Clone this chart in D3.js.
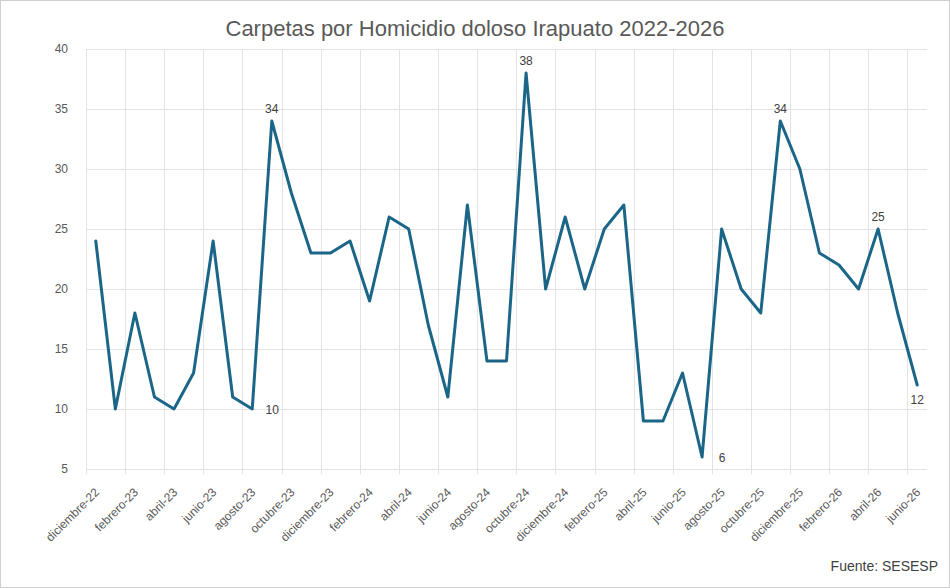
<!doctype html>
<head>
    <meta charset="utf-8">
    <title>Carpetas por Homicidio doloso Irapuato</title>
    <script src="https://cdn.jsdelivr.net/npm/d3@7"></script>
    <style>
        body { margin: 0; background: #fff; }
        svg { display: block; font-family: "Liberation Sans", Arial, sans-serif; }
        .grid line { stroke: #e3e3e3; shape-rendering: crispEdges; }
        .axis text { fill: #595959; font-size: 12px; }
        .axis path, .axis line { display: none; }
    </style>
</head>
<body>
<script>
    "use strict";

    const months = [
        "diciembre-22",
        "enero-23", "febrero-23", "marzo-23", "abril-23", "mayo-23", "junio-23",
        "julio-23", "agosto-23", "septiembre-23", "octubre-23", "noviembre-23", "diciembre-23",
        "enero-24", "febrero-24", "marzo-24", "abril-24", "mayo-24", "junio-24",
        "julio-24", "agosto-24", "septiembre-24", "octubre-24", "noviembre-24", "diciembre-24",
        "enero-25", "febrero-25", "marzo-25", "abril-25", "mayo-25", "junio-25",
        "julio-25", "agosto-25", "septiembre-25", "octubre-25", "noviembre-25", "diciembre-25",
        "enero-26", "febrero-26", "marzo-26", "abril-26", "mayo-26", "junio-26"
    ];
    const carpetas = [
        24,
        10, 18, 11, 10, 13, 24, 11, 10, 34, 28, 23, 23,
        24, 19, 26, 25, 17, 11, 27, 14, 14, 38, 20, 26,
        20, 25, 27, 9, 9, 13, 6, 25, 20, 18, 34, 30,
        23, 22, 20, 25, 18, 12
    ];
    const yTicks = [5, 10, 15, 20, 25, 30, 35, 40];
    // which points get a data label, and where
    const labelled = [
        { month: "agosto-23", pos: "right" },
        { month: "septiembre-23", pos: "top" },
        { month: "octubre-24", pos: "top" },
        { month: "julio-25", pos: "right" },
        { month: "noviembre-25", pos: "top" },
        { month: "abril-26", pos: "top" },
        { month: "junio-26", pos: "bottom" }
    ];

    const width = 950;
    const height = 588;
    const margin = { top: 49, right: 23, bottom: 119, left: 86 };

    const data = months.map((m, i) => ({ month: m, value: carpetas[i] }));

    const x = d3.scaleBand()
        .domain(months)
        .range([margin.left, width - margin.right]);

    const y = d3.scaleLinear()
        .domain([5, 40])
        .range([height - margin.bottom, margin.top]);

    const cx = m => x(m) + x.bandwidth() / 2;

    const svg = d3.select("body").append("svg")
        .attr("width", width)
        .attr("height", height);

    // outer frame
    svg.append("rect")
        .attr("x", 0.5).attr("y", 0.5)
        .attr("width", width - 1).attr("height", height - 1)
        .attr("fill", "#fff")
        .attr("stroke", "#d0d0d0");

    // gridlines
    const grid = svg.append("g").attr("class", "grid");
    grid.selectAll(".h")
        .data(yTicks)
        .join("line")
        .attr("x1", margin.left)
        .attr("x2", width - margin.right)
        .attr("y1", d => Math.round(y(d)))
        .attr("y2", d => Math.round(y(d)))
        .attr("stroke", d => d === 5 ? "#d4d4d4" : null);

    const vIdx = months.filter((m, i) => i % 2 === 0);
    grid.selectAll(".v")
        .data(vIdx)
        .join("line")
        .attr("x1", d => Math.round(x(d)))
        .attr("x2", d => Math.round(x(d)))
        .attr("y1", margin.top)
        .attr("y2", height - margin.bottom + 5);

    // y axis
    svg.append("g")
        .attr("class", "axis")
        .attr("transform", `translate(${margin.left - 18},0)`)
        .call(d3.axisLeft(y).tickValues(yTicks).tickSize(0).tickPadding(0))
        .call(g => g.select(".domain").remove());

    // x axis
    svg.append("g")
        .attr("class", "axis")
        .attr("transform", `translate(0,${height - margin.bottom})`)
        .call(d3.axisBottom(x).tickValues(vIdx).tickSize(0))
        .call(g => g.select(".domain").remove())
        .call(g => g.selectAll("text")
            .attr("font-size", "12.5px")
            .attr("text-anchor", "end")
            .attr("dy", "0.35em")
            .attr("transform", "translate(-1,19) rotate(-45)"));

    // line
    const line = d3.line()
        .x(d => cx(d.month))
        .y(d => y(d.value));

    svg.append("path")
        .datum(data)
        .attr("fill", "none")
        .attr("stroke", "#1b6688")
        .attr("stroke-width", 3)
        .attr("stroke-linejoin", "round")
        .attr("stroke-linecap", "round")
        .attr("d", line);

    // data labels
    const offs = { top: [0, -8], right: [20, 5], bottom: [0, 19] };
    svg.append("g")
        .selectAll("text")
        .data(labelled)
        .join("text")
        .attr("x", d => cx(d.month) + offs[d.pos][0])
        .attr("y", d => y(carpetas[months.indexOf(d.month)]) + offs[d.pos][1])
        .attr("text-anchor", "middle")
        .attr("font-size", "12px")
        .attr("fill", "#404040")
        .text(d => carpetas[months.indexOf(d.month)]);

    // title
    svg.append("text")
        .attr("x", width / 2)
        .attr("y", 36)
        .attr("text-anchor", "middle")
        .attr("font-size", "22px")
        .attr("fill", "#595959")
        .text("Carpetas por Homicidio doloso Irapuato 2022-2026");

    // source
    svg.append("text")
        .attr("x", width - 12)
        .attr("y", 571)
        .attr("text-anchor", "end")
        .attr("font-size", "14px")
        .attr("fill", "#404040")
        .text("Fuente: SESESP");
</script>
</body>
